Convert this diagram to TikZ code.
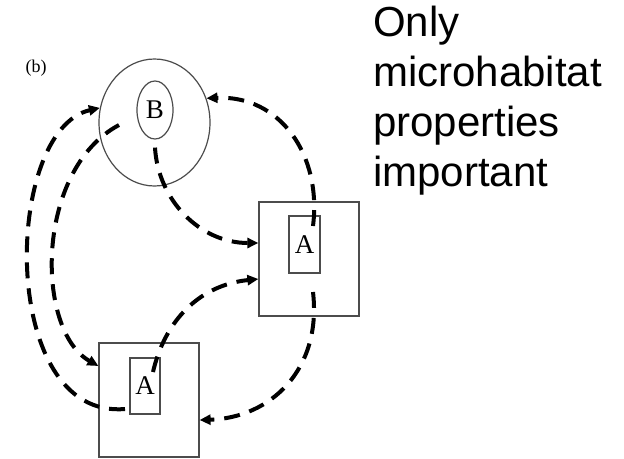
\documentclass[tikz,border=0pt]{standalone}
\usepackage{fontspec}
\usepackage{tikz}
\usetikzlibrary{arrows.meta, shapes.geometric}
\newfontfamily\serifrm{Liberation Serif}
\newfontfamily\sansrm{Liberation Sans}

\begin{document}
\begin{tikzpicture}[x=1pt,y=-1pt,
  frame/.style={draw=black!70, line width=1.2pt, inner sep=0pt},
  move/.style={line width=4pt, dash pattern=on 16pt off 10pt, -{Triangle[length=11pt,width=10pt]}}]
\useasboundingbox (0,0) rectangle (624,458);
\node[font=\serifrm\fontsize{18}{18}\selectfont] (lab) at (36,68) {(b)};
\node[font=\sansrm\fontsize{42}{50}\selectfont, align=left, anchor=north west, inner sep=0pt] (title) at (373,6) {Only\\microhabitat\\properties\\important};
% patches and microhabitats
\node[frame, ellipse, minimum width=111pt, minimum height=127pt] (patchB) at (154.5,122.5) {};
\node[frame, ellipse, minimum width=36pt, minimum height=58pt, font=\serifrm\fontsize{27}{27}\selectfont] (microB) at (155,110) {B};
\node[frame, minimum width=100pt, minimum height=114pt] (patchR) at (309,259) {};
\node[frame, minimum width=31pt, minimum height=57pt, font=\serifrm\fontsize{27}{27}\selectfont] (microR) at (304.5,244.5) {A};
\node[frame, minimum width=100pt, minimum height=114pt] (patchL) at (149,400) {};
\node[frame, minimum width=30pt, minimum height=56pt, font=\serifrm\fontsize{27}{27}\selectfont] (microL) at (145,386) {A};
\coordinate (s2) at (313,226);
\coordinate (s3) at (119,125);
\coordinate (s4) at (125,409);
\coordinate (s5) at (153,372);
\coordinate (s6) at (313,292);
% movements
\draw[move] ([yshift=-8pt]microB.south) .. controls (158,200) and (200,243) .. ([yshift=16pt]patchR.west);
\draw[move] (s2) .. controls (322,155) and (280,95) .. (patchB.25);
\draw[move] (s3) .. controls (35,170) and (35,330) .. ([yshift=34pt]patchL.west);
\draw[move] (s4) .. controls (-2,420) and (3,130) .. (patchB.165);
\draw[move] (s5) .. controls (165,320) and (200,285) .. ([yshift=-20pt]patchR.west);
\draw[move] (s6) .. controls (322,370) and (270,418) .. ([yshift=-20pt]patchL.east);
\end{tikzpicture}
\end{document}
